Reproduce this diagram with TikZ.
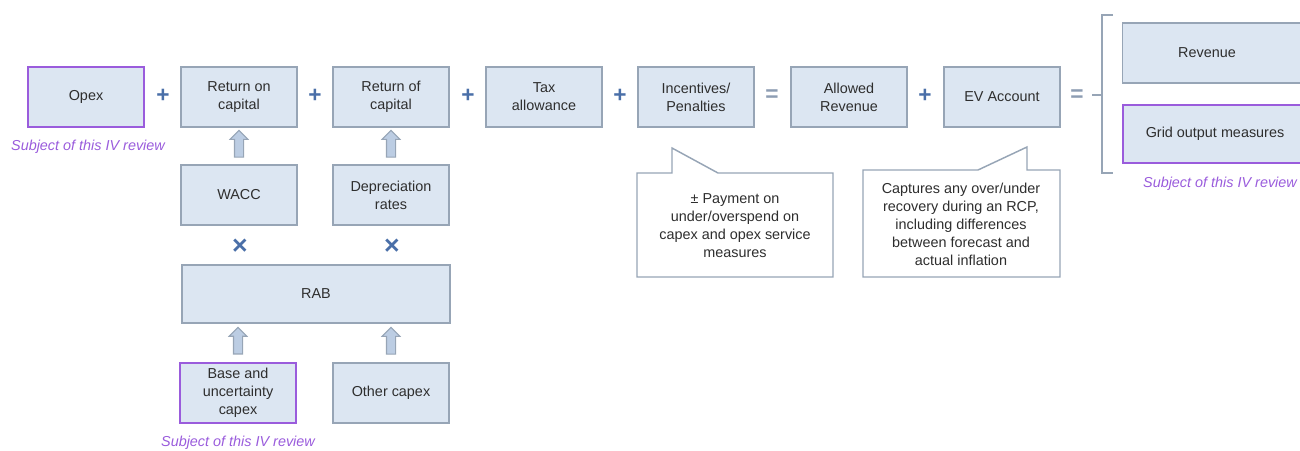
\documentclass[tikz,border=0pt]{standalone}
\usepackage{fontspec}
\setmainfont{Liberation Sans}
\usetikzlibrary{shapes.arrows,calc}

\definecolor{boxfill}{HTML}{DCE6F2}
\definecolor{boxline}{HTML}{97A5B6}
\definecolor{ivpurple}{HTML}{9A5CDC}
\definecolor{opblue}{HTML}{4A6FA8}
\definecolor{eqgrey}{HTML}{8D9DB3}
\definecolor{arrowfill}{HTML}{BCCDE3}
\definecolor{txt}{HTML}{2E2E2E}

\tikzset{
  every node/.style={font=\fontsize{10.8}{13.5}\selectfont, text=txt},
  box/.style={draw=boxline, fill=boxfill, line width=1.1pt, align=center,
    minimum width=87pt, minimum height=45pt, inner sep=2pt},
  ivbox/.style={box, draw=ivpurple, line width=1.4pt},
  op/.style={text=opblue, font=\fontsize{17}{17}\selectfont\bfseries},
  mult/.style={text=opblue, font=\fontsize{20}{20}\selectfont\bfseries},
  eq/.style={text=eqgrey, font=\fontsize{17}{17}\selectfont\bfseries},
  note/.style={text=ivpurple, font=\fontsize{10.8}{13}\selectfont\itshape},
  uparrow/.style={single arrow, draw=boxline, fill=arrowfill, line width=0.8pt,
    shape border rotate=90, minimum height=20pt, minimum width=0pt,
    inner sep=3pt, single arrow head extend=3.3pt, single arrow tip angle=90},
  callout/.style={draw=boxline, fill=white, line width=1.1pt},
  bracket/.style={draw=boxline, line width=1.1pt},
}

\begin{document}
\begin{tikzpicture}[x=0.75pt, y=-0.75pt]
\useasboundingbox (0,0) rectangle (1300,450);
\begin{scope}
\clip (0,0) rectangle (1300,450);

% main revenue build-up row
\node[ivbox] (opex) at (86,97) {Opex};
\node[op] (p1) at (163,96) {+};
\node[box] (ron) at (239,97) {Return on\\capital};
\node[op] (p2) at (315,96) {+};
\node[box] (rof) at (391,97) {Return of\\capital};
\node[op] (p3) at (468,96) {+};
\node[box] (tax) at (544,97) {Tax\\allowance};
\node[op] (p4) at (620,96) {+};
\node[box] (inc) at (696,97) {Incentives/\\Penalties};
\node[eq] (e1) at (772,96) {=};
\node[box] (allowed) at (849,97) {Allowed\\Revenue};
\node[op] (p5) at (925,96) {+};
\node[box] (ev) at (1002,97) {EV Account};
\node[eq] (e2) at (1077,96) {=};

% outputs on the right
\node[box, minimum width=141pt, minimum height=45pt, anchor=west] (rev) at (1122,53) {};
\node at (1207,53) {Revenue};
\node[ivbox, minimum width=141pt, minimum height=44pt, anchor=west] (gom) at (1122,134) {};
\node at (1215,134) {Grid output measures};
\node[note] (n3) at (1220,184) {Subject of this IV review};

% bracket grouping the outputs
\coordinate (bt) at (1102,15);
\coordinate (bb) at (1102,173);
\coordinate (bm) at (1102,95);
\draw[bracket] ($(bt)+(11,0)$) -- (bt) -- (bb) -- ($(bb)+(11,0)$);
\draw[bracket] (bm) -- ($(bm)+(-10,0)$);

% capital build-up
\node[note] (n1) at (88,147) {Subject of this IV review};
\node[box] (wacc) at (239,195) {WACC};
\node[box] (dep) at (391,195) {Depreciation\\rates};
\node[mult] (t1) at (240,247) {×};
\node[mult] (t2) at (392,247) {×};
\node[box, minimum width=201pt, minimum height=43.5pt] (rab) at (316,294) {RAB};
\node[ivbox] (base) at (238,393) {Base and\\uncertainty\\capex};
\node[box] (other) at (391,393) {Other capex};
\node[note] (n2) at (238,443) {Subject of this IV review};

% block arrows
\node[uparrow] at ($(wacc.north)!0.5!(ron.south)$) {};
\node[uparrow] at ($(dep.north)!0.5!(rof.south)$) {};
\node[uparrow] at ($(base.north)!0.5!(base.north|-rab.south)$) {};
\node[uparrow] at ($(other.north)!0.5!(other.north|-rab.south)$) {};

% callouts
\coordinate (c1a) at (672,148);
\draw[callout] (637,173) -- (672,173) -- (c1a) -- (718,173) -- (833,173)
  -- (833,277) -- (637,277) -- cycle;
\node[align=center] (c1) at (735,226)
  {\textpm{} Payment on\\under/overspend on\\capex and opex service\\measures};
\coordinate (c2a) at (1027,147);
\draw[callout] (863,170) -- (978,170) -- (c2a) -- (1027,170) -- (1060,170)
  -- (1060,277) -- (863,277) -- cycle;
\node[align=center] (c2) at (961,224)
  {Captures any over/under\\recovery during an RCP,\\including differences\\between forecast and\\actual inflation};
\end{scope}
\end{tikzpicture}
\end{document}
